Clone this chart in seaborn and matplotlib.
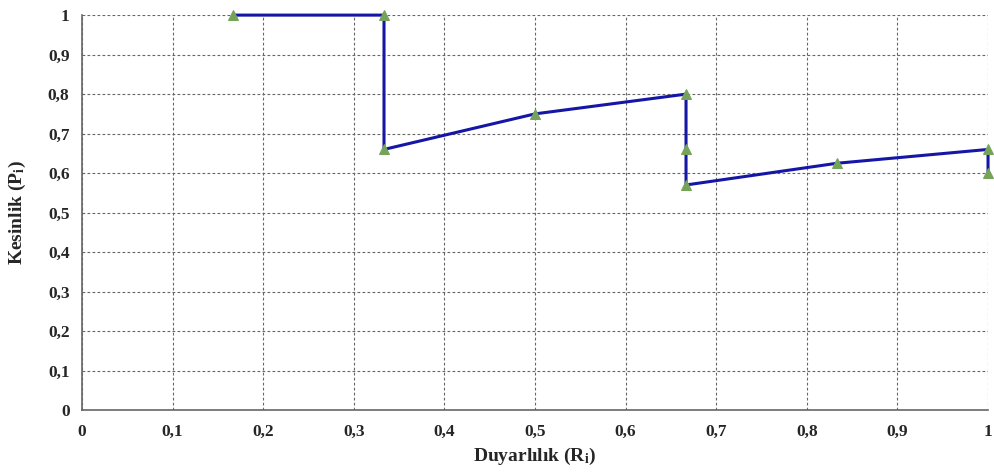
import matplotlib
matplotlib.use("Agg")
import matplotlib.pyplot as plt
import seaborn as sns
import pandas as pd

recall = [1/6, 1/3, 1/3, 0.5, 2/3, 2/3, 2/3, 5/6, 1.0, 1.0]
precision = [1.0, 1.0, 0.66, 0.75, 0.80, 0.66, 0.57, 0.625, 0.66, 0.60]
tick_vals = [0, 0.1, 0.2, 0.3, 0.4, 0.5, 0.6, 0.7, 0.8, 0.9, 1.0]
tick_labels = ["0", "0,1", "0,2", "0,3", "0,4", "0,5", "0,6", "0,7", "0,8", "0,9", "1"]

sns.set_style("white")
plt.rcParams["font.family"] = ["Liberation Serif", "DejaVu Serif"]
plt.rcParams["font.weight"] = "bold"
plt.rcParams["mathtext.fontset"] = "custom"
plt.rcParams["mathtext.rm"] = "Liberation Serif:bold"
plt.rcParams["mathtext.it"] = "Liberation Serif:bold"

df = pd.DataFrame({"R": recall, "P": precision})

fig = plt.figure(figsize=(9.94, 4.72), dpi=100)
ax = fig.add_axes([0.0825, 0.131, 0.9115, 0.837])

sns.lineplot(data=df, x="R", y="P", sort=False, estimator=None, ax=ax,
             color="#1616a6", linewidth=2.2, marker="^", markersize=7,
             markerfacecolor="#76a35a", markeredgecolor="#76a35a",
             clip_on=False, zorder=5)

ax.set_xlim(0, 1)
ax.set_ylim(0, 1)
ax.set_xticks(tick_vals)
ax.set_xticklabels(tick_labels, fontsize=12.5, fontweight="bold")
ax.set_yticks(tick_vals)
ax.set_yticklabels(tick_labels, fontsize=12.5, fontweight="bold")
ax.tick_params(axis="y", length=0, pad=9)
ax.tick_params(axis="x", length=0, pad=10)

ax.grid(True, linestyle=(0, (2.5, 2)), color="#666666", linewidth=0.8)
for s in ["top", "right"]:
    ax.spines[s].set_visible(False)
for s in ["left", "bottom"]:
    ax.spines[s].set_color("#666666")
    ax.spines[s].set_linewidth(1.2)

ax.set_xlabel(r"Duyarlılık (R$_\mathrm{i}$)", fontsize=14, fontweight="bold", labelpad=4)
ax.set_ylabel(r"Kesinlik (P$_\mathrm{i}$)", fontsize=14, fontweight="bold", labelpad=14)

fig.savefig("out.png", dpi=100)
